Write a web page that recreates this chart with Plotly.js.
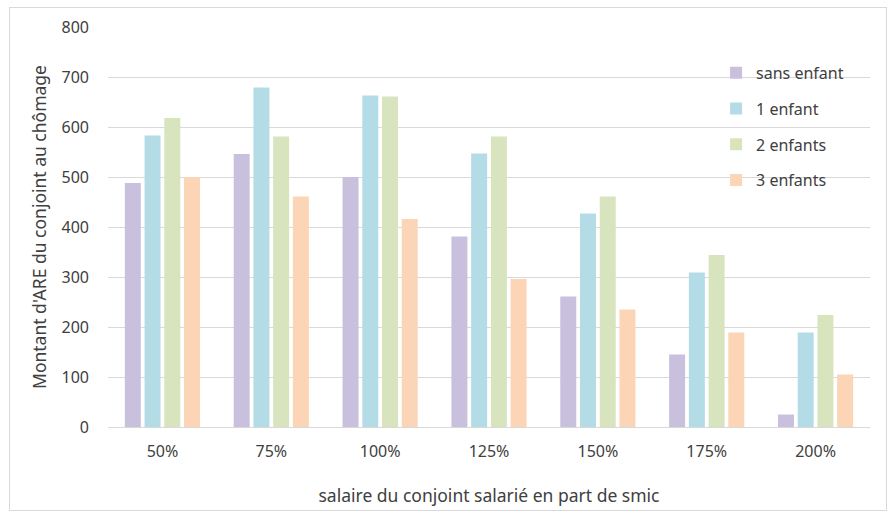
<!DOCTYPE html>
<html>
<head>
<meta charset="utf-8">
<script src="https://cdn.plot.ly/plotly-3.0.1.min.js"></script>
<style>
  body { margin: 0; background: #fff; }
  #frame { position: absolute; left: 9px; top: 7px; width: 876px; height: 502px; border: 1px solid #d9d9d9; }
  #plot { width: 894px; height: 517px; }
</style>
</head>
<body>
<div id="frame"></div>
<div id="plot"></div>
<script>
// salaire du conjoint en part de smic
var categories = ["50%", "75%", "100%", "125%", "150%", "175%", "200%"];

// montant d'ARE par configuration familiale
var sansEnfant = [488, 546, 500, 381, 261, 145, 25];
var unEnfant   = [583, 679, 663, 547, 427, 309, 189];
var deuxEnfants = [618, 581, 661, 581, 461, 344, 224];
var troisEnfants = [500, 461, 416, 296, 235, 189, 105];

var seriesNames = ["sans enfant", "1 enfant", "2 enfants", "3 enfants"];
var seriesValues = [sansEnfant, unEnfant, deuxEnfants, troisEnfants];
var colors = ["#c8c0dc", "#b4dce7", "#d7e4bd", "#fbd5b5"];

var data = seriesValues.map(function (vals, i) {
  return {
    x: categories,
    y: vals,
    type: "bar",
    name: seriesNames[i],
    legendgroup: "g" + i,
    marker: { color: colors[i] },
    hoverinfo: "x+y+name"
  };
});

var layout = {
  width: 894,
  height: 517,
  margin: { l: 108, r: 24, t: 27, b: 90 },
  paper_bgcolor: "rgba(0,0,0,0)",
  plot_bgcolor: "rgba(0,0,0,0)",
  font: { family: "Noto Sans, Liberation Sans, sans-serif", size: 15, color: "#404040" },
  barmode: "group",
  bargap: 0.275,
  bargroupgap: 0.19,
  showlegend: true,
  legend: {
    x: 0.798, y: 0.928, xanchor: "left", yanchor: "top",
    bgcolor: "rgba(255,255,255,0)",
    font: { size: 16, color: "#404040" },
    tracegroupgap: 12,
    itemwidth: 30
  },
  xaxis: {
    type: "category",
    showgrid: false,
    showline: true,
    linecolor: "#d9d9d9",
    ticks: "",
    tickfont: { size: 16, color: "#404040" },
    ticklabelstandoff: 10,
    title: { text: "salaire du conjoint salarié en part de smic", font: { size: 17.5, color: "#404040" }, standoff: 28 }
  },
  yaxis: {
    range: [0, 800],
    dtick: 100,
    showgrid: true,
    gridcolor: "#d9d9d9",
    zeroline: false,
    ticks: "",
    tickfont: { size: 16, color: "#404040" },
    ticklabelstandoff: 18,
    title: { text: "Montant d'ARE du conjoint au chômage", font: { size: 17.5, color: "#404040" }, standoff: 10 }
  }
};

Plotly.newPlot("plot", data, layout, { displayModeBar: false, staticPlot: true });
</script>
</body>
</html>
